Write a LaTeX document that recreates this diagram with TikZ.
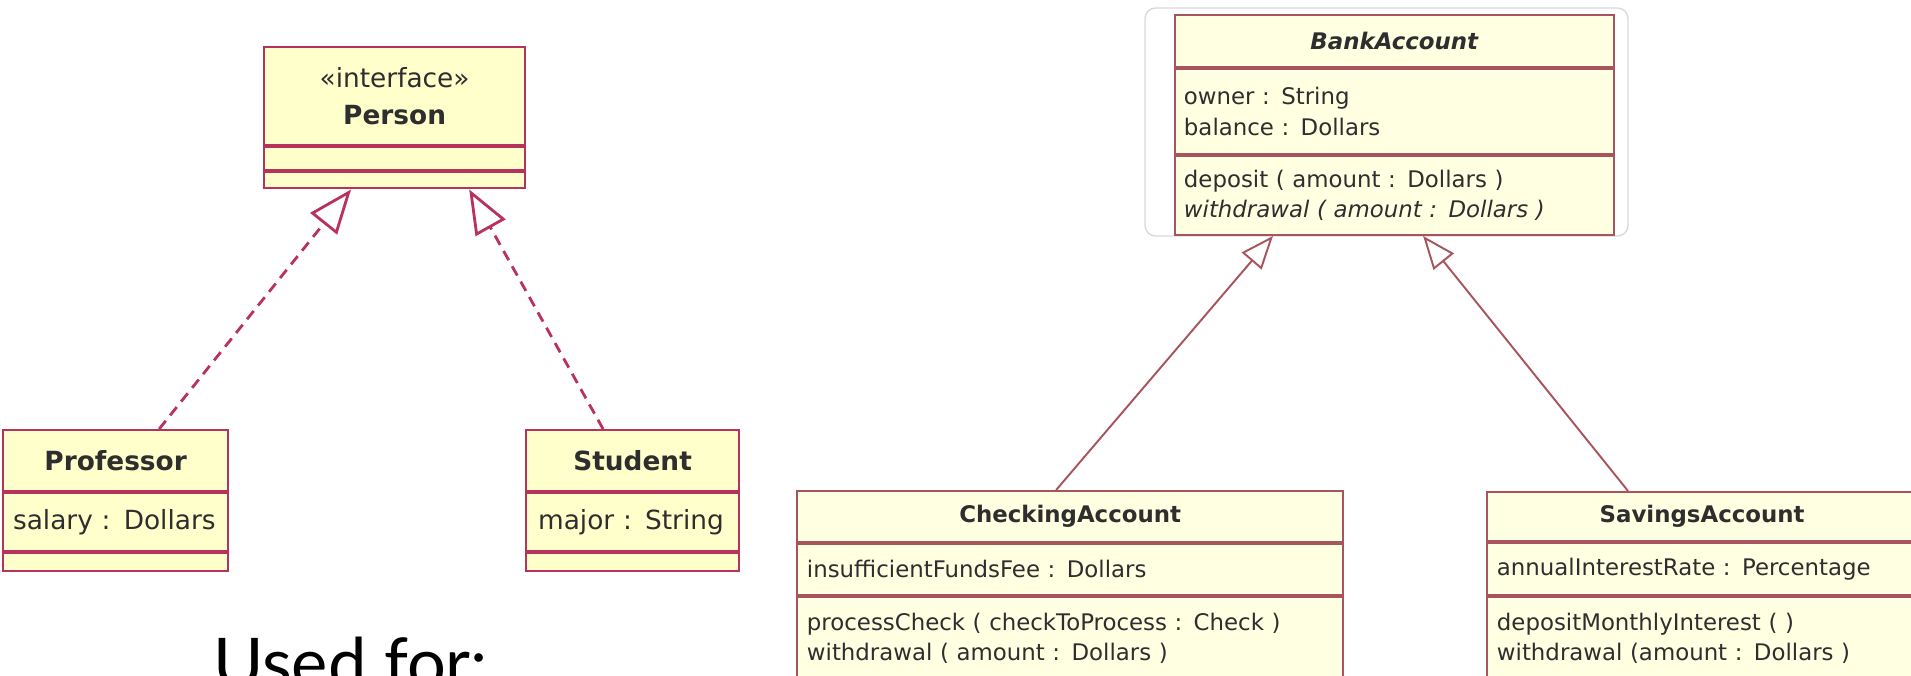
\documentclass[tikz,border=0pt]{standalone}
\usepackage{fontspec}
\setmainfont{DejaVu Sans}
\newfontfamily\slidefont{Lato}
\usetikzlibrary{arrows.meta}
\definecolor{umlfill}{HTML}{FFFFCC}
\definecolor{umlfillb}{HTML}{FFFFE2}
\definecolor{umlred}{HTML}{B8325E}
\definecolor{umlbrown}{HTML}{A8545E}
\definecolor{umltext}{HTML}{2E2E2E}
\begin{document}
\begin{tikzpicture}[x=0.01cm, y=-0.01cm,
	cls/.style={draw=umlred, fill=umlfill, line width=0.6pt, inner sep=0pt, text=umltext, font=\fontsize{7.5}{10.5}\selectfont},
	clsb/.style={draw=umlbrown, fill=umlfillb, line width=0.55pt, inner sep=0pt, text=umltext, font=\fontsize{6.5}{8.6}\selectfont},
	realize/.style={draw=umlred, line width=0.8pt, dash pattern=on 3pt off 2pt, -{Triangle[fill=white, length=0.44cm, width=0.34cm]}},
	inherit/.style={draw=umlbrown, line width=0.55pt, -{Triangle[fill=white, length=0.33cm, width=0.26cm]}}]
			\useasboundingbox (0,0) rectangle (1911,675);

			% Interface Person
			\node[cls, minimum width=2.61cm, minimum height=0.98cm, anchor=north west, align=center] (person) at (263,46) {«interface»\\\textbf{Person}};
			\node[cls, minimum width=2.61cm, minimum height=0.23cm, anchor=north] (person-attr) at (person.south) {};
			\node[cls, minimum width=2.61cm, minimum height=0.16cm, anchor=north] (person-ops) at (person-attr.south) {};

			% Professor
			\node[cls, minimum width=2.25cm, minimum height=0.61cm, anchor=north west] (prof) at (2,429) {\textbf{Professor}};
			\node[cls, minimum height=0.58cm, inner xsep=0.1cm, text width=2.05cm, anchor=north] (prof-attr) at (prof.south) {salary : Dollars};
			\node[cls, minimum width=2.25cm, minimum height=0.18cm, anchor=north] (prof-ops) at (prof-attr.south) {};

			% Student
			\node[cls, minimum width=2.13cm, minimum height=0.61cm, anchor=north west] (stud) at (525,429) {\textbf{Student}};
			\node[cls, minimum height=0.58cm, inner xsep=0.12cm, text width=1.89cm, anchor=north] (stud-attr) at (stud.south) {major : String};
			\node[cls, minimum width=2.13cm, minimum height=0.18cm, anchor=north] (stud-ops) at (stud-attr.south) {};

			% Realizations
			\draw[realize] ([xshift=0.435cm]prof.north) -- ([xshift=-0.435cm]person-ops.south);
			\draw[realize] ([xshift=-0.295cm]stud.north) -- ([xshift=0.745cm]person-ops.south);

			\node[anchor=base west, font=\slidefont\fontsize{19.5}{24}\selectfont] (usedfor) at (201,687) {Used for:};

			% Abstract class BankAccount
			\draw[black!15, rounded corners=3pt] (1145,8) rectangle (1628,236);
			\node[clsb, minimum width=4.39cm, minimum height=0.52cm, anchor=north west] (bank) at (1174,14) {\textbf{\textit{BankAccount}}};
			\node[clsb, minimum height=0.85cm, inner xsep=0.09cm, text width=4.21cm, align=left, anchor=north] (bank-attr) at (bank.south) {owner : String\\balance : Dollars};
			\node[clsb, minimum height=0.79cm, inner xsep=0.09cm, text width=4.21cm, align=left, anchor=north] (bank-ops) at (bank-attr.south) {deposit ( amount : Dollars )\\\textit{withdrawal ( amount : Dollars )}};

			% CheckingAccount
			\node[clsb, minimum width=5.46cm, minimum height=0.51cm, anchor=north west] (check) at (796,490) {\textbf{CheckingAccount}};
			\node[clsb, minimum height=0.51cm, inner xsep=0.1cm, text width=5.26cm, anchor=north] (check-attr) at (check.south) {insufficientFundsFee : Dollars};
			\node[clsb, minimum height=0.83cm, inner xsep=0.1cm, text width=5.26cm, align=left, anchor=north] (check-ops) at (check-attr.south) {processCheck ( checkToProcess : Check )\\withdrawal ( amount : Dollars )};

			% SavingsAccount
			\node[clsb, minimum width=4.30cm, minimum height=0.49cm, anchor=north west] (save) at (1486,491) {\textbf{SavingsAccount}};
			\node[clsb, minimum height=0.52cm, inner xsep=0.1cm, text width=4.10cm, anchor=north] (save-attr) at (save.south) {annualInterestRate : Percentage};
			\node[clsb, minimum height=0.83cm, inner xsep=0.1cm, text width=4.10cm, align=left, anchor=north] (save-ops) at (save-attr.south) {depositMonthlyInterest ( )\\withdrawal (amount : Dollars )};

			% Generalizations
			\draw[inherit] ([xshift=-0.14cm]check.north) -- ([xshift=-1.215cm]bank-ops.south);
			\draw[inherit] ([xshift=-0.74cm]save.north) -- ([xshift=0.285cm]bank-ops.south);
		\end{tikzpicture}
\end{document}
